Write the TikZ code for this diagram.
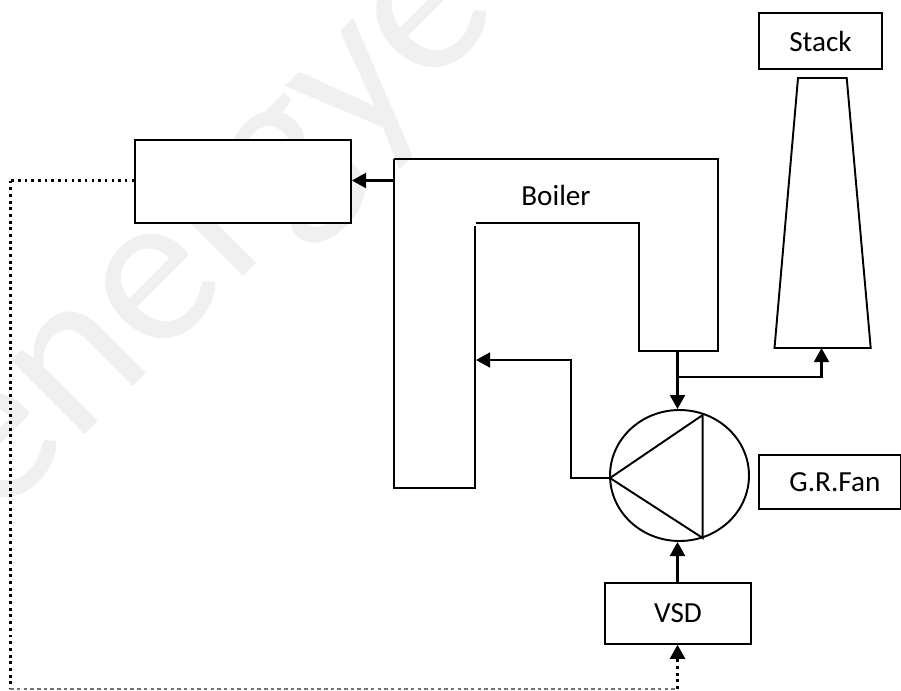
\documentclass[tikz,border=0pt]{standalone}
\usepackage{fontspec}
\setmainfont{Carlito}
\usetikzlibrary{shapes.geometric, arrows.meta}

\tikzset{
    unit/.style={draw, fill=white, line width=1.1pt, inner sep=0pt, font=\fontsize{16.6}{18}\selectfont},
    wall/.style={line width=1.1pt, line join=miter},
    flow/.style={-{Triangle[length=8pt, width=8.5pt]}, line width=1.4pt},
    signal/.style={line width=1.7pt, dash pattern=on 1.7pt off 2.1pt},
    fine/.style={line width=1.4pt, dash pattern=on 1.4pt off 2.4pt},
    faint/.style={line width=0.8pt, black!55, dash pattern=on 2pt off 1.8pt},
    mark text/.style={black!6, inner sep=0pt, rotate=45, font=\fontsize{125}{125}\selectfont}
}

\begin{document}
\begin{tikzpicture}[x=0.02cm, y=-0.02cm]
    \useasboundingbox (0,0) rectangle (901,690);

    % Watermark
    \node[mark text] (wmark) at (226,245) {energye};

    % Boiler
    \coordinate (outer) at (394,159);
    \coordinate (inner) at (476,223);
    \coordinate (hot) at (394,180.5);
    \coordinate (inlet) at (476,360);
    \coordinate (outlet) at (677.5,351);
    \coordinate (tee) at (677.5,377);
    \draw[wall] (outer) -- (718,159) -- (718,351) -- (639,351) -- (639,223) -- (inner);
    \draw[wall] (474.7,226) -- (474.7,488) -- (394,488) -- (outer);
    \node (boiler) at (556,195) {\fontsize{16.6}{18}\selectfont Boiler};

    % Stack
    \node[unit, minimum width=2.45cm, minimum height=1.13cm] (stacklabel) at (820.5,41) {Stack};
    \coordinate (stackfoot) at (821.5,348);
    \draw[wall] (798,78) -- (846.7,78) -- (870.7,348) -- (774.5,348) -- cycle;

    % Units
    \node[unit, minimum width=4.32cm, minimum height=1.66cm] (sensor) at (243,181.5) {};
    \node[unit, minimum width=2.84cm, minimum height=1.08cm] (fanlabel) at (830,482) {\hspace{5.6pt}\raisebox{-1.7pt}{G.R.Fan}};
    \node[unit, minimum width=2.92cm, minimum height=1.21cm] (vsd) at (678,613.5) {\raisebox{-1pt}{VSD}};
    \node[draw, ellipse, line width=1.1pt, inner sep=0pt, minimum width=2.78cm, minimum height=2.62cm] (fan) at (679.5,475.5) {};

    % Fan blade
    \coordinate (apex) at (610,478);
    \draw[wall] (apex) -- (702.7,415) -- (702.7,538) -- cycle;

    % Arrows
    \draw[flow] (hot) -- (sensor.east |- hot);
    \draw[flow] (outlet) -- (fan.north -| outlet);
    \draw[flow] (tee) -- (stackfoot |- tee) -- (stackfoot);
    \draw[flow] (vsd.north -| outlet) -- (fan.south -| outlet);
    \draw[flow, line width=1.2pt] (apex) -- (570.7,478) -- (570.7,360) -- (inlet);

    % Signal line
    \coordinate (turn) at (10.3,180.5);
    \coordinate (corner) at (10.3,689);
    \coordinate (rise) at (677.5,689);
    \draw[fine] (sensor.west |- turn) -- (turn);
    \draw[signal] (turn) -- (corner);
    \draw[faint] (corner) -- (rise);
    \draw[signal] (rise) -- (677.5,655);
    \draw[flow] (677.5,656) -- (vsd.south -| rise);
\end{tikzpicture}
\end{document}
